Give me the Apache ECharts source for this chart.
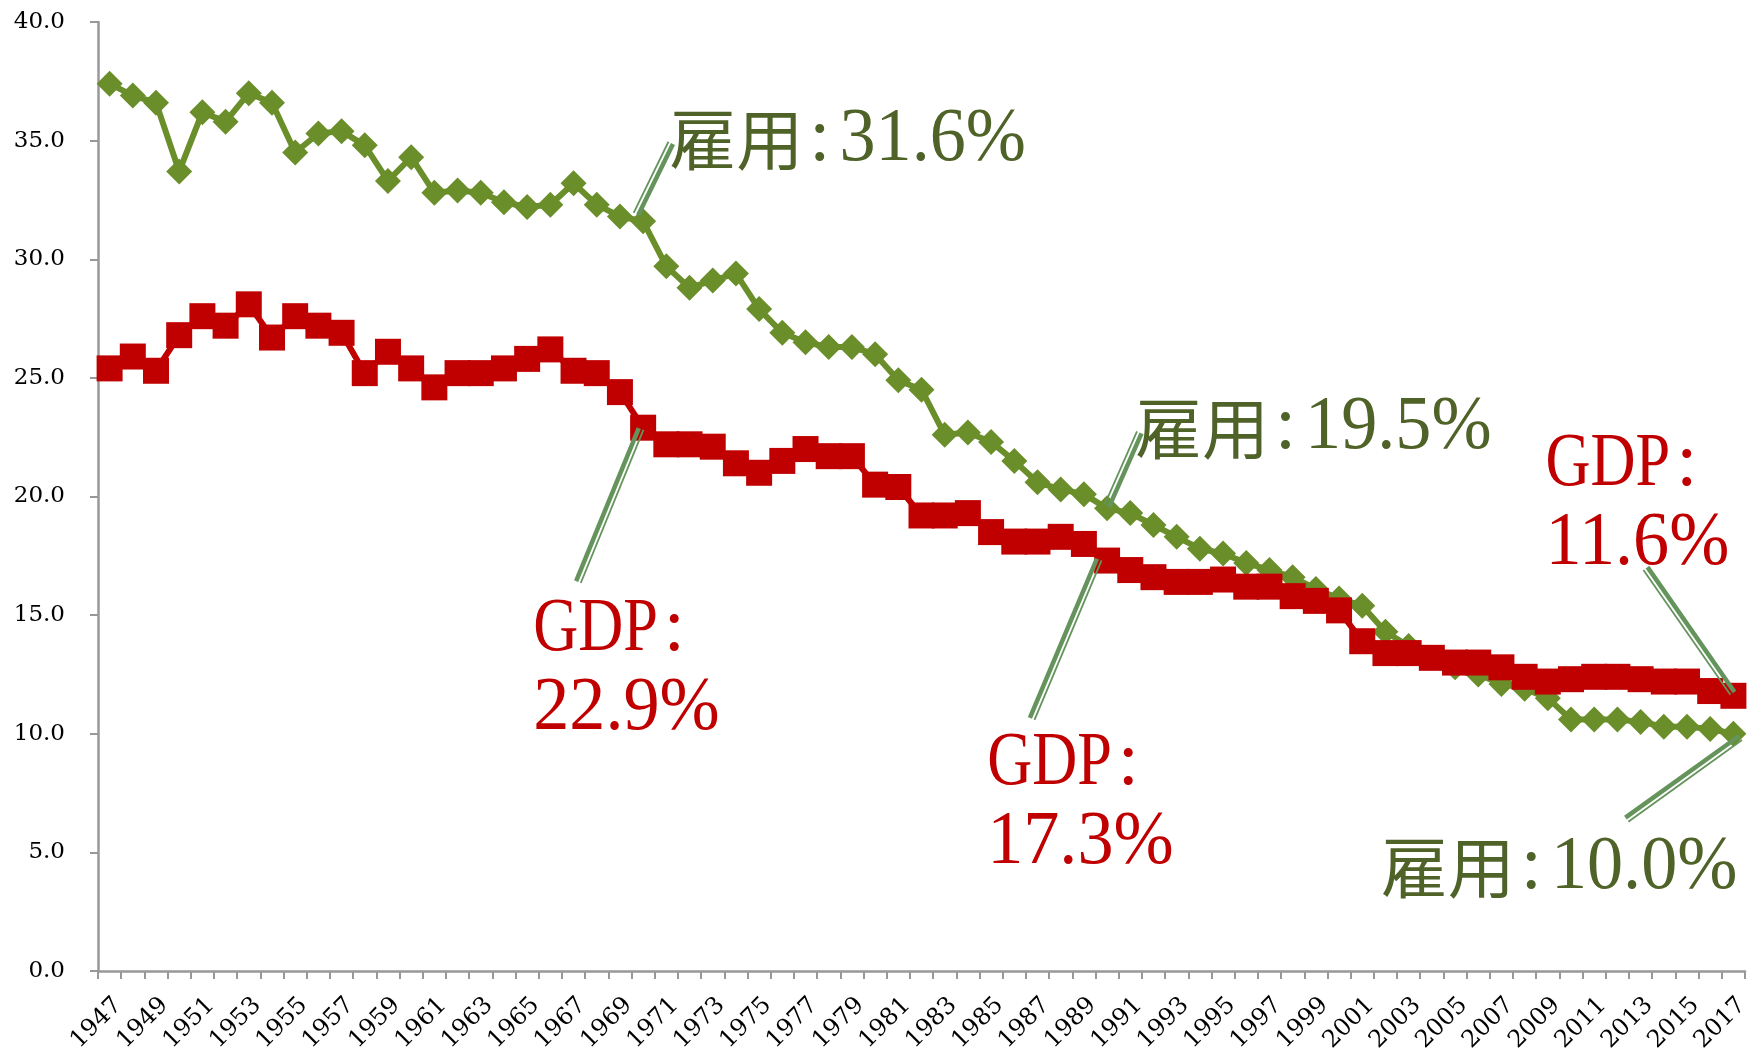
<!DOCTYPE html>
<html>
<head>
<meta charset="utf-8">
<script src="https://cdn.jsdelivr.net/npm/echarts@6/dist/echarts.min.js"></script>
<style>
html,body{margin:0;padding:0;background:#fff;}
#chart{width:1749px;height:1051px;}
</style>
</head>
<body>
<div id="chart"></div>
<script>
const years = ['1947','1948','1949','1950','1951','1952','1953','1954','1955','1956',
'1957','1958','1959','1960','1961','1962','1963','1964','1965','1966',
'1967','1968','1969','1970','1971','1972','1973','1974','1975','1976',
'1977','1978','1979','1980','1981','1982','1983','1984','1985','1986',
'1987','1988','1989','1990','1991','1992','1993','1994','1995','1996',
'1997','1998','1999','2000','2001','2002','2003','2004','2005','2006',
'2007','2008','2009','2010','2011','2012','2013','2014','2015','2016','2017'];

const employment = [37.4,36.9,36.6,33.7,36.2,35.8,37.0,36.6,34.5,35.3,
35.4,34.8,33.3,34.3,32.8,32.9,32.8,32.4,32.2,32.3,
33.2,32.3,31.8,31.6,29.7,28.8,29.1,29.4,27.9,26.9,
26.5,26.3,26.3,26.0,24.9,24.5,22.6,22.7,22.3,21.5,
20.6,20.3,20.1,19.5,19.3,18.8,18.3,17.8,17.6,17.2,
16.9,16.6,16.1,15.7,15.4,14.3,13.7,13.2,12.8,12.5,
12.1,11.9,11.5,10.6,10.6,10.6,10.5,10.3,10.3,10.2,10.0];

const gdp = [25.4,25.9,25.3,26.8,27.6,27.2,28.1,26.7,27.6,27.2,
26.9,25.2,26.1,25.4,24.6,25.2,25.2,25.4,25.8,26.2,
25.3,25.2,24.4,22.9,22.2,22.2,22.1,21.4,21.0,21.5,
22.0,21.7,21.7,20.5,20.4,19.2,19.2,19.3,18.5,18.1,
18.1,18.3,18.0,17.3,16.9,16.6,16.4,16.4,16.5,16.2,
16.2,15.8,15.6,15.2,13.9,13.4,13.4,13.2,13.0,13.0,
12.8,12.4,12.2,12.3,12.4,12.4,12.3,12.2,12.2,11.8,11.6];

const yTicks = [0,5,10,15,20,25,30,35,40];

// annotations: leader line [from],[to] in (category index, value); text anchor (left, middle of first line)
const annotations = [
  {color:'#4F6228', lines:[[['K','雇用'],['C',':'],['N','31.6%']]], from:[22.7,31.9], to:[24.2,34.9], at:[24.13,35.03]},
  {color:'#C00000', lines:[[['L','GDP'],['C',':']],[['N','22.9%']]], from:[22.9,22.85], to:[20.2,16.4], at:[18.26,14.36]},
  {color:'#4F6228', lines:[[['K','雇用'],['C',':'],['N','19.5%']]], from:[43.0,19.6], to:[44.4,22.7], at:[44.2,22.87]},
  {color:'#C00000', lines:[[['L','GDP'],['C',':']],[['N','17.3%']]], from:[42.65,17.35], to:[39.76,10.63], at:[37.83,8.72]},
  {color:'#C00000', lines:[[['L','GDP'],['C',':']],[['N','11.6%']]], from:[69.97,11.71], to:[66.22,16.97], at:[61.9,21.32]},
  {color:'#4F6228', lines:[[['K','雇用'],['C',':'],['N','10.0%']]], from:[70.3,9.83], to:[65.4,6.39], at:[54.8,4.35]}
];

const chart = echarts.init(document.getElementById('chart'), null, {renderer:'canvas'});
const axisGray = '#989898';
const serif = "'DejaVu Serif', serif";

chart.setOption({
  animation:false,
  backgroundColor:'#fff',
  grid:{left:98, right:4, top:22, bottom:80, containLabel:false, outerBoundsMode:'none'},
  xAxis:{
    type:'category', data:years, boundaryGap:true,
    axisLine:{lineStyle:{color:axisGray, width:2.5}},
    axisTick:{show:true, interval:0, length:8, lineStyle:{color:axisGray, width:2}},
    axisLabel:{interval:1, rotate:45, color:'#000', fontFamily:serif, fontSize:24, margin:22,
      verticalAlign:'top', align:'right', hideOverlap:false}
  },
  yAxis:{
    type:'value', min:yTicks[0], max:yTicks[yTicks.length-1], interval:5,
    axisLine:{show:true, lineStyle:{color:axisGray, width:2.5}},
    axisTick:{show:true, length:8, lineStyle:{color:axisGray, width:2}},
    splitLine:{show:false},
    axisLabel:{color:'#000', fontFamily:serif, fontSize:23, margin:33,
      formatter:v=>v.toFixed(1)}
  },
  series:[
    {name:'雇用', type:'line', data:employment, symbol:'diamond', symbolSize:26, showAllSymbol:true,
     lineStyle:{color:'#6A8E2A', width:6}, itemStyle:{color:'#6A8E2A'}, z:2},
    {name:'GDP', type:'line', data:gdp, symbol:'rect', symbolSize:26, showAllSymbol:true,
     lineStyle:{color:'#C00000', width:6}, itemStyle:{color:'#C00000'}, z:3}
  ]
});

function toPx(pt){
  const a = chart.convertToPixel({gridIndex:0},[0, pt[1]]);
  const b = chart.convertToPixel({gridIndex:0},[1, pt[1]]);
  return [a[0] + (b[0]-a[0])*pt[0], a[1]];
}

const pieceStyle = {
  K:{font:"67px 'Noto Sans CJK JP'", sx:1, sy:1, pre:0, post:0, dy:0},
  L:{font:"76px 'Liberation Serif'", sx:0.82, sy:1, pre:0, post:0, dy:0},
  N:{font:"76px 'Liberation Serif'", sx:0.95, sy:1, pre:0, post:0, dy:0},
  C:{font:"76px 'Liberation Serif'", sx:1, sy:1, pre:6, post:9, dy:0}
};
const mctx = document.createElement('canvas').getContext('2d');
function measure(text, font){ mctx.font = font; return mctx.measureText(text).width; }

const graphics = [];
const lineGap = 79;
annotations.forEach(an=>{
  const p1 = toPx(an.from), p2 = toPx(an.to);
  const dx = p2[0]-p1[0], dy = p2[1]-p1[1];
  const len = Math.sqrt(dx*dx+dy*dy);
  const nx = -dy/len, ny = dx/len;
  const lc = '#64945C';
  graphics.push({type:'line', shape:{x1:p1[0]+nx*2.2, y1:p1[1]+ny*2.2, x2:p2[0]+nx*2.2, y2:p2[1]+ny*2.2},
    style:{stroke:lc, lineWidth:4.5}, z:10});
  graphics.push({type:'line', shape:{x1:p1[0]-nx*2.8, y1:p1[1]-ny*2.8, x2:p2[0]-nx*2.8, y2:p2[1]-ny*2.8},
    style:{stroke:lc, lineWidth:1.8}, z:10});
  const t = toPx(an.at);
  an.lines.forEach((segs,i)=>{
    let cx = t[0];
    const cy = t[1] + i*lineGap;
    segs.forEach(([k,s])=>{
      const ps = pieceStyle[k];
      cx += ps.pre;
      graphics.push({type:'text', x:cx, y:cy+ps.dy, scaleX:ps.sx, scaleY:ps.sy, z:11,
        style:{text:s, fill:an.color, font:ps.font, x:0, y:0, align:'left', verticalAlign:'middle'}});
      cx += measure(s, ps.font)*ps.sx + ps.post;
    });
  });
});
chart.setOption({graphic:graphics});
</script>
</body>
</html>
